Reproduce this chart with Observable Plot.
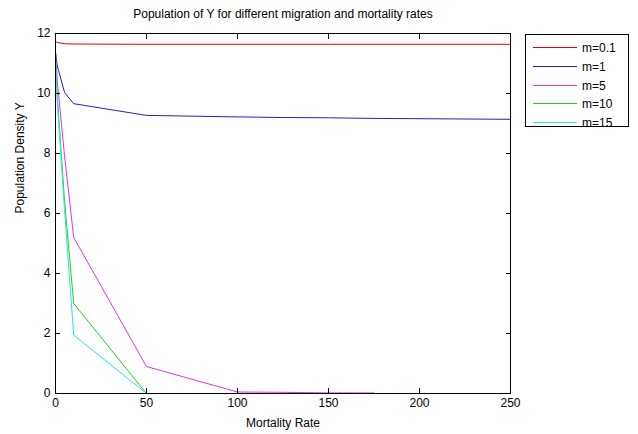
<!DOCTYPE html>
<html>
<head>
<meta charset="utf-8">
<script src="https://cdn.jsdelivr.net/npm/d3@7"></script>
<script src="https://cdn.jsdelivr.net/npm/@observablehq/plot@0.6"></script>
<style>
  html, body { margin: 0; padding: 0; background: #fff; }
  svg { display: block; }
</style>
</head>
<body>
<div id="chart"></div>
<script>
// Mortality rates sampled by the simulation
const mortality = [0.1, 1, 5, 10, 50, 100, 125, 150, 175, 250];

// Equilibrium population density of Y for each migration rate
const seriesNames = ["m=0.1", "m=1", "m=5", "m=10", "m=15"];
const yM01 = [11.73, 11.70, 11.66, 11.65, 11.64, 11.64, 11.64, 11.64, 11.64, 11.64];
const yM1  = [11.33, 10.92, 10.03, 9.66, 9.27, 9.22, 9.20, 9.19, 9.17, 9.14];
const yM5  = [11.3, 10.4, 7.9, 5.2, 0.9, 0.05, 0.04, 0.02, 0.02];
const yM10 = [11.1, 9.9, 6.4, 3.0, 0.0];
const yM15 = [11.0, 9.7, 6.1, 1.95, 0.0];
const seriesColors = ["#e00000", "#2222c4", "#e035e0", "#22d022", "#22e6e6"];

const xTicks = [0, 50, 100, 150, 200, 250];
const yTicks = [0, 2, 4, 6, 8, 10, 12];

const rows = [yM01, yM1, yM5, yM10, yM15].flatMap((vals, i) =>
  vals.map((v, j) => ({series: seriesNames[i], rate: mortality[j], density: v}))
);

const font = "Liberation Sans, Arial, sans-serif";

const chart = Plot.plot({
  width: 638,
  height: 434,
  marginLeft: 55,
  marginRight: 128,
  marginTop: 33,
  marginBottom: 41,
  style: {fontFamily: font, fontSize: "12px", color: "#000", background: "#fff"},
  x: {domain: [0, 250]},
  y: {domain: [0, 12]},
  color: {domain: seriesNames, range: seriesColors},
  marks: [
    Plot.line(rows, {x: "rate", y: "density", z: "series", stroke: "series", strokeWidth: 1}),
    Plot.frame({stroke: "#000", strokeWidth: 1}),
    // inward ticks on all four sides
    Plot.axisX(xTicks, {anchor: "bottom", tickSize: -5, label: null, text: null, stroke: "#000"}),
    Plot.axisX(xTicks, {anchor: "top", tickSize: -5, label: null, text: null, stroke: "#000"}),
    Plot.axisY(yTicks, {anchor: "left", tickSize: -5, label: null, text: null, stroke: "#000"}),
    Plot.axisY(yTicks, {anchor: "right", tickSize: -5, label: null, text: null, stroke: "#000"}),
    // tick labels
    Plot.axisX(xTicks, {anchor: "bottom", tickSize: 0, tickPadding: 5, label: null, fontSize: 12, fill: "#000"}),
    Plot.axisY(yTicks, {anchor: "left", tickSize: 0, tickPadding: 5, label: null, fontSize: 12, fill: "#000"}),
    // axis titles and chart title
    Plot.text(["Mortality Rate"], {frameAnchor: "bottom", lineAnchor: "middle", dy: 30, fontSize: 12, fill: "#000"}),
    Plot.text(["Population Density Y"], {frameAnchor: "left", dx: -35, rotate: -90, fontSize: 12, fill: "#000"}),
    Plot.text(["Population of Y for different migration and mortality rates"], {frameAnchor: "top", lineAnchor: "middle", dy: -19, fontSize: 12, fill: "#000"})
  ]
});

// legend box to the right of the axes
const svg = d3.select(chart);
const lg = svg.append("g").attr("font-family", font).attr("font-size", 12).attr("text-anchor", "start");
lg.append("rect")
  .attr("x", 525.5).attr("y", 34.5).attr("width", 103).attr("height", 92)
  .attr("fill", "#fff").attr("stroke", "#000");
seriesNames.forEach((name, i) => {
  const y = Math.round(47 + i * 18.8);
  lg.append("rect")
    .attr("x", 533).attr("y", y).attr("width", 44).attr("height", 1)
    .attr("fill", seriesColors[i]);
  lg.append("text")
    .attr("x", 582).attr("y", y + 0.5).attr("dy", "0.35em")
    .attr("fill", "#000").text(name);
});

document.getElementById("chart").appendChild(chart);
</script>
</body>
</html>
